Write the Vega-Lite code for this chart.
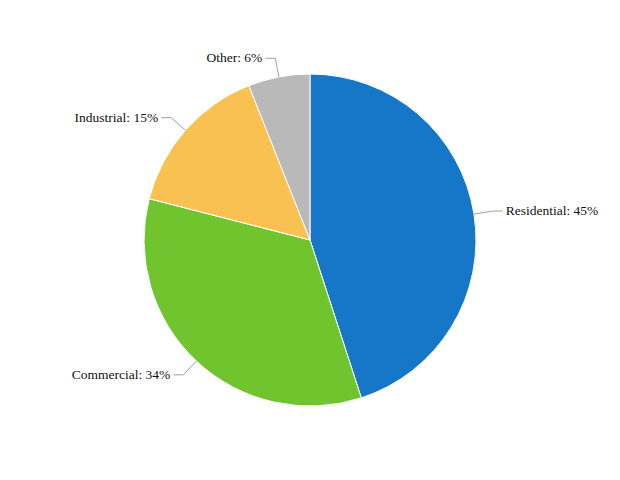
{
  "$schema": "https://vega.github.io/schema/vega-lite/v6.json",
  "width": 620,
  "height": 480,
  "autosize": {"type": "none"},
  "padding": 0,
  "background": "white",
  "view": {"stroke": null},
  "data": {"values": [
    {"category": "Residential", "value": 45, "order": 1},
    {"category": "Commercial", "value": 34, "order": 2},
    {"category": "Industrial", "value": 15, "order": 3},
    {"category": "Other", "value": 6, "order": 4}
  ]},
  "transform": [
    {"window": [{"op": "sum", "field": "value", "as": "cum"}], "sort": [{"field": "order"}], "frame": [null, 0]},
    {"calculate": "2*PI*(datum.cum - datum.value/2)/100", "as": "a"},
    {"calculate": "datum.a < PI ? 1 : -1", "as": "s"},
    {"calculate": "166*sin(datum.a)", "as": "x0"},
    {"calculate": "166*cos(datum.a)", "as": "y0"},
    {"calculate": "185*sin(datum.a)", "as": "x1"},
    {"calculate": "185*cos(datum.a)", "as": "y1"},
    {"calculate": "datum.x1 + 10*datum.s", "as": "x2"},
    {"calculate": "datum.y1", "as": "y2"},
    {"calculate": "datum.category + ': ' + datum.value + '%'", "as": "label"}
  ],
  "layer": [
    {
      "mark": {"type": "arc", "outerRadius": 166, "stroke": "white", "strokeWidth": 1},
      "encoding": {
        "theta": {"field": "value", "type": "quantitative", "stack": true},
        "order": {"field": "order", "type": "quantitative"},
        "color": {
          "field": "category", "type": "nominal", "legend": null,
          "scale": {"domain": ["Residential", "Commercial", "Industrial", "Other"], "range": ["#1676C8", "#70C42E", "#F9C152", "#B9B9B9"]}
        }
      }
    },
    {
      "transform": [
        {"fold": ["x0", "x1", "x2"], "as": ["pt", "px"]},
        {"calculate": "datum.pt == 'x0' ? datum.y0 : (datum.pt == 'x1' ? datum.y1 : datum.y2)", "as": "py"}
      ],
      "mark": {"type": "line", "stroke": "#A0A0A0", "strokeWidth": 1},
      "encoding": {
        "x": {"field": "px", "type": "quantitative", "scale": {"domain": [-310, 310], "nice": false, "zero": false}, "axis": null},
        "y": {"field": "py", "type": "quantitative", "scale": {"domain": [-240, 240], "nice": false, "zero": false}, "axis": null},
        "detail": {"field": "category"},
        "order": {"field": "pt"}
      }
    },
    {
      "transform": [{"filter": "datum.s > 0"}],
      "mark": {"type": "text", "align": "left", "baseline": "middle", "dx": 3, "font": "Liberation Serif", "fontSize": 13.5, "fill": "#111111"},
      "encoding": {
        "x": {"field": "x2", "type": "quantitative", "scale": {"domain": [-310, 310], "nice": false, "zero": false}, "axis": null},
        "y": {"field": "y2", "type": "quantitative", "scale": {"domain": [-240, 240], "nice": false, "zero": false}, "axis": null},
        "text": {"field": "label"}
      }
    },
    {
      "transform": [{"filter": "datum.s < 0"}],
      "mark": {"type": "text", "align": "right", "baseline": "middle", "dx": -3, "font": "Liberation Serif", "fontSize": 13.5, "fill": "#111111"},
      "encoding": {
        "x": {"field": "x2", "type": "quantitative", "scale": {"domain": [-310, 310], "nice": false, "zero": false}, "axis": null},
        "y": {"field": "y2", "type": "quantitative", "scale": {"domain": [-240, 240], "nice": false, "zero": false}, "axis": null},
        "text": {"field": "label"}
      }
    }
  ]
}
